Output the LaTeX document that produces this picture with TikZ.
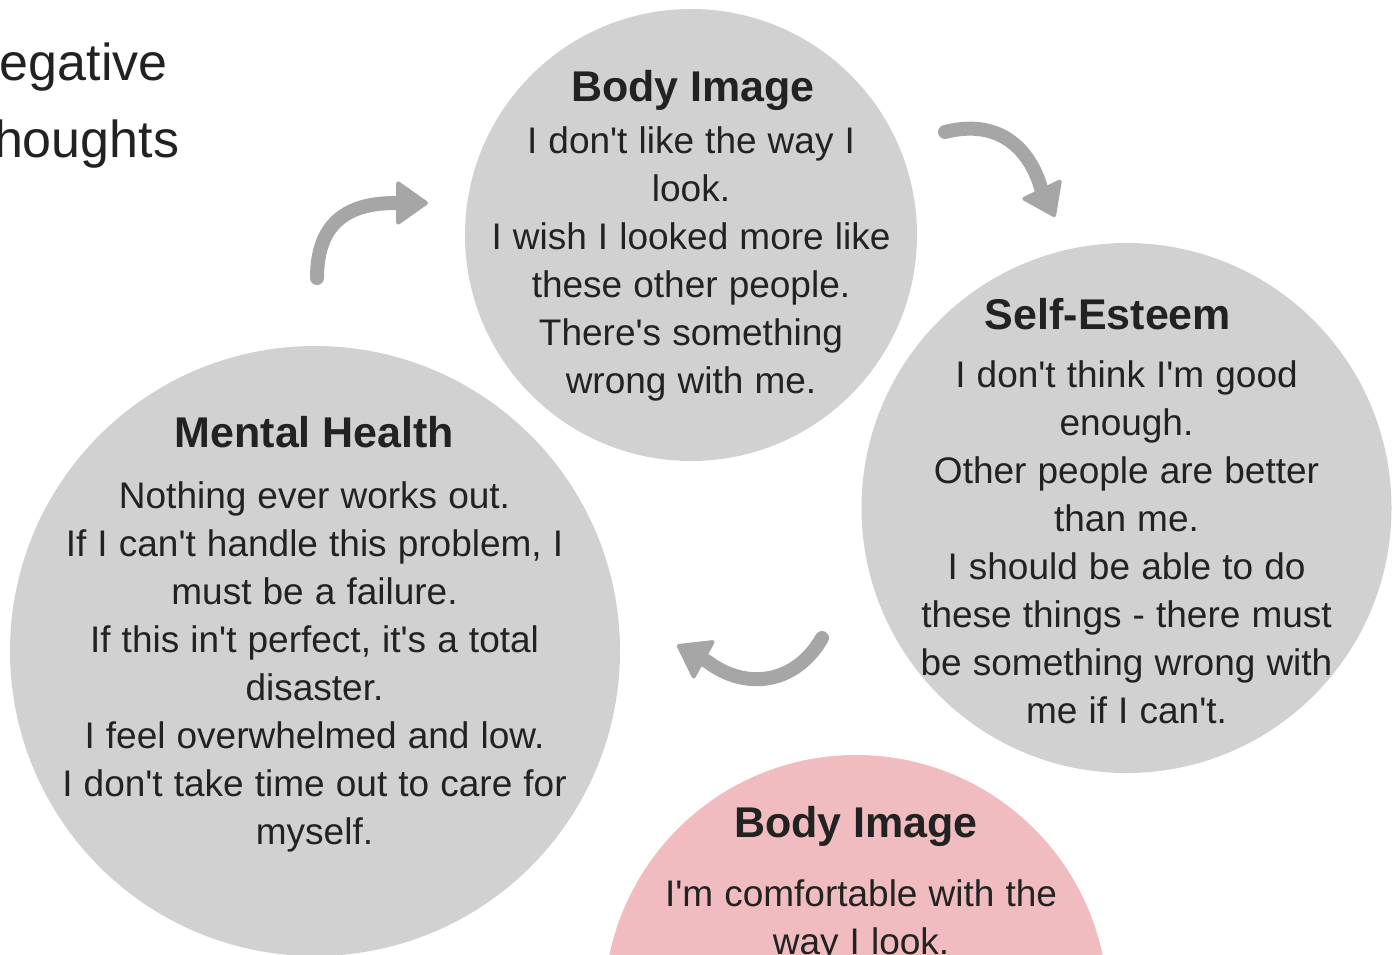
\documentclass[tikz,border=0pt]{standalone}
\usepackage{fontspec}
\setmainfont{Liberation Sans}[Ligatures=TeXOff]
\usepackage{tikz}
\usetikzlibrary{arrows.meta}

\definecolor{bubblegray}{HTML}{D1D1D1}
\definecolor{bubblepink}{HTML}{F1BCC0}
\definecolor{arrowgray}{HTML}{A6A6A6}
\definecolor{inkdark}{HTML}{222222}

\tikzset{
  bubble/.style={circle, fill=bubblegray, inner sep=0pt, minimum size=#1},
  heading/.style={font=\bfseries\fontsize{32.25}{38}\selectfont, text=inkdark, anchor=base, inner sep=0pt},
  bodytext/.style={font=\fontsize{27.75}{36}\selectfont, execute at begin node={\spaceskip=0.3em\relax},
    text=inkdark, align=center, anchor=base, inner sep=0pt, text width=#1},
  cyclearrow/.style={line width=10.5pt, draw=arrowgray, line cap=round,
    -{Triangle[length=25pt, width=34.5pt, round, line width=3pt]}},
}

\begin{document}
\begin{tikzpicture}[x=0.75pt, y=-0.75pt]

\useasboundingbox (0,0) rectangle (1399,954);

% circles
\node[bubble=339pt] (bodyimg) at (691,235) {};
\node[bubble=397.5pt] (selfest) at (1126.5,508) {};
\node[bubble=457.5pt] (mental) at (315,651) {};
\node[bubble=378pt, fill=bubblepink] (bodypos) at (856,1007) {};

% title, cut at the left edge
\node[font=\fontsize{39}{57.75}\selectfont, text=inkdark, align=left, text width=300pt, anchor=base west, inner sep=0pt] (negthoughts) at (-38,80)
  {Negative\\Thoughts};

% texts in the circles
\node[heading] (bodyimgtitle) at (693,101) {Body Image};
\node[bodytext=330pt] (bodyimgtext) at (691,153)
  {I don't like the way I\\look.\\I wish I looked more like\\these other people.\\There's something\\wrong with me.};

\node[heading] (selfesttitle) at (1108,329) {Self-Esteem};
\node[bodytext=340pt] (selfesttext) at (1126.5,387)
  {I don't think I'm good\\enough.\\Other people are better\\than me.\\I should be able to do\\these things - there must\\be something wrong with\\me if I can't.};

\node[heading] (mentaltitle) at (314.5,447) {Mental Health};
\node[bodytext=400pt] (mentaltext) at (314.5,508)
  {Nothing ever works out.\\If I can't handle this problem, I\\must be a failure.\\If this in't perfect, it's a total\\disaster.\\I feel overwhelmed and low.\\I don't take time out to care for\\myself.};

\node[heading] (bodypostitle) at (856,837) {Body Image};
\node[bodytext=330pt] (bodypostext) at (861,906)
  {I'm comfortable with the\\way I look.};

% arrows
\coordinate (a1start) at (317,278);
\coordinate (a1end) at (428,203);
\coordinate (a2start) at (945,132);
\coordinate (a2end) at (1055,217);
\coordinate (a3start) at (822,638);
\coordinate (a3end) at (677,645);

\draw[cyclearrow] (a1start) .. controls (317,225) and (345,203) .. (395,203) -- (a1end);
\draw[cyclearrow] (a2start) .. controls (1000,118) and (1030,150) .. (1041,188) -- (a2end);
\draw[cyclearrow] (a3start) .. controls (795,685) and (745,690) .. (708,662) -- (a3end);

\end{tikzpicture}
\end{document}
